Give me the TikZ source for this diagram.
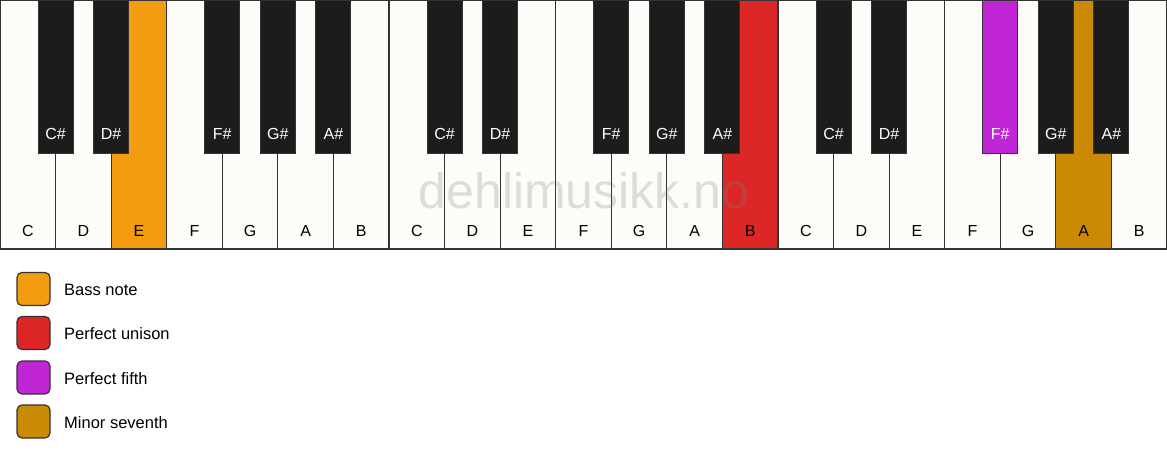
\documentclass[tikz,border=0pt]{standalone}
\usepackage{fontspec}
\setmainfont{Liberation Sans}
\definecolor{keywhite}{HTML}{FDFCF9}
\definecolor{keyblack}{HTML}{1C1C1C}
\definecolor{keyline}{HTML}{333333}
\definecolor{bass}{HTML}{F39C0F}
\definecolor{unison}{HTML}{DD2626}
\definecolor{fifth}{HTML}{C026D3}
\definecolor{seventh}{HTML}{CA8A04}
\begin{document}
\begin{tikzpicture}[x=1pt,y=1pt,
  whitekey/.style={draw=keyline,line width=1.2pt,minimum width=55.571pt,minimum height=249pt,inner sep=0pt,outer sep=0pt,anchor=north west},
  blackkey/.style={draw=keyline,line width=1pt,minimum width=35pt,minimum height=153pt,inner sep=0pt,outer sep=0pt,anchor=north},
  wlabel/.style={anchor=base,inner sep=0pt,text=black,font=\fontsize{16}{16}\selectfont},
  blabel/.style={anchor=base,inner sep=0pt,text=white,font=\fontsize{16}{16}\selectfont},
  legbox/.style={draw=keyline,line width=1.2pt,rounded corners=5pt,minimum size=33pt,inner sep=0pt},
  legtext/.style={anchor=base west,inner sep=0pt,font=\fontsize{16.5}{16.5}\selectfont}
]
\useasboundingbox (0,0) rectangle (1167,-461);
\fill[white] (0,0) rectangle (1167,-461);
% white keys
\foreach \n/\c [count=\i from 0] in {C/keywhite,D/keywhite,E/bass,F/keywhite,G/keywhite,A/keywhite,B/keywhite,
  C/keywhite,D/keywhite,E/keywhite,F/keywhite,G/keywhite,A/keywhite,B/unison,
  C/keywhite,D/keywhite,E/keywhite,F/keywhite,G/keywhite,A/seventh,B/keywhite}{
  \node[whitekey,fill=\c] (w\i) at ({\i*55.571},0) {};
  \node[wlabel] (wl\i) at ({(\i+0.5)*55.571},-236) {\n};
}
% black keys
\foreach \o in {0,1,2}{
  \foreach \k/\n/\c in {1/C\#/keyblack,2/D\#/keyblack,4/F\#/keyblack,5/G\#/keyblack,6/A\#/keyblack}{
    \pgfmathtruncatemacro{\idx}{7*\o+\k}
    \ifnum\idx=18 \def\cc{fifth}\else \def\cc{\c}\fi
    \node[blackkey,fill=\cc] (b\idx) at ({\idx*55.571},0) {};
    \node[blabel] (bl\idx) at ({\idx*55.571},-139) {\n};
  }
}
% watermark
\node[anchor=base,inner sep=0pt,text=gray,opacity=0.25,font=\fontsize{50}{50}\selectfont] (wm) at (584,-208) {dehlimusikk.no};
% legend
\node[legbox,fill=bass] (lb1) at (33.5,-289) {};
\node[legtext] (lt1) at (64,-295.5) {Bass note};
\node[legbox,fill=unison] (lb2) at (33.5,-333) {};
\node[legtext] (lt2) at (64,-339.5) {Perfect unison};
\node[legbox,fill=fifth] (lb3) at (33.5,-377.5) {};
\node[legtext] (lt3) at (64,-384) {Perfect fifth};
\node[legbox,fill=seventh] (lb4) at (33.5,-421.5) {};
\node[legtext] (lt4) at (64,-428) {Minor seventh};
\end{tikzpicture}
\end{document}
